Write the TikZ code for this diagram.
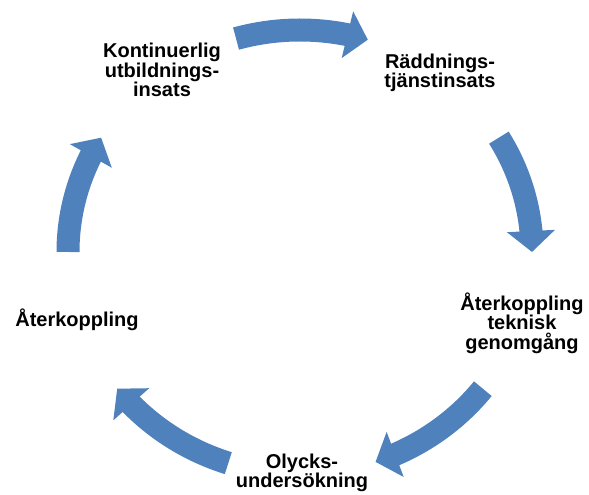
\documentclass[tikz,border=0pt]{standalone}
\usepackage{fontspec}
\setmainfont{Liberation Sans}
\usetikzlibrary{arrows.meta,bending,calc}
\definecolor{cyc}{RGB}{79,129,189}
\tikzset{
  lbl/.style={align=center, inner sep=0pt, font=\bfseries\fontsize{20}{19.5}\selectfont},
  cycarrow/.style={draw=cyc, line width=23pt, line cap=butt,
    -{Triangle[width=47pt,length=21pt,flex]}}
}
\begin{document}
\begin{tikzpicture}[x=1pt,y=1pt]
\useasboundingbox (0,0) rectangle (589,495);
\coordinate (C) at (300,243);
\node[lbl] (k) at (162,425) {Kontinuerlig\\utbildnings-\\insats};
\node[lbl] (r) at (440,422) {Räddnings-\\tjänstinsats};
\node[lbl] (t) at (522,172) {Återkoppling\\teknisk\\genomgång};
\node[lbl] (o) at (302,22) {Olycks-\\undersökning};
\node[lbl] (a) at (77,175) {Återkoppling};
\foreach \s/\e in {106/73, 31/0, -38/-71, -108/-142, 180/149}{
  \draw[cycarrow] ($(C)+(\s:232pt and 222pt)$) arc[start angle=\s, end angle=\e, x radius=232pt, y radius=222pt];
}
\end{tikzpicture}
\end{document}
